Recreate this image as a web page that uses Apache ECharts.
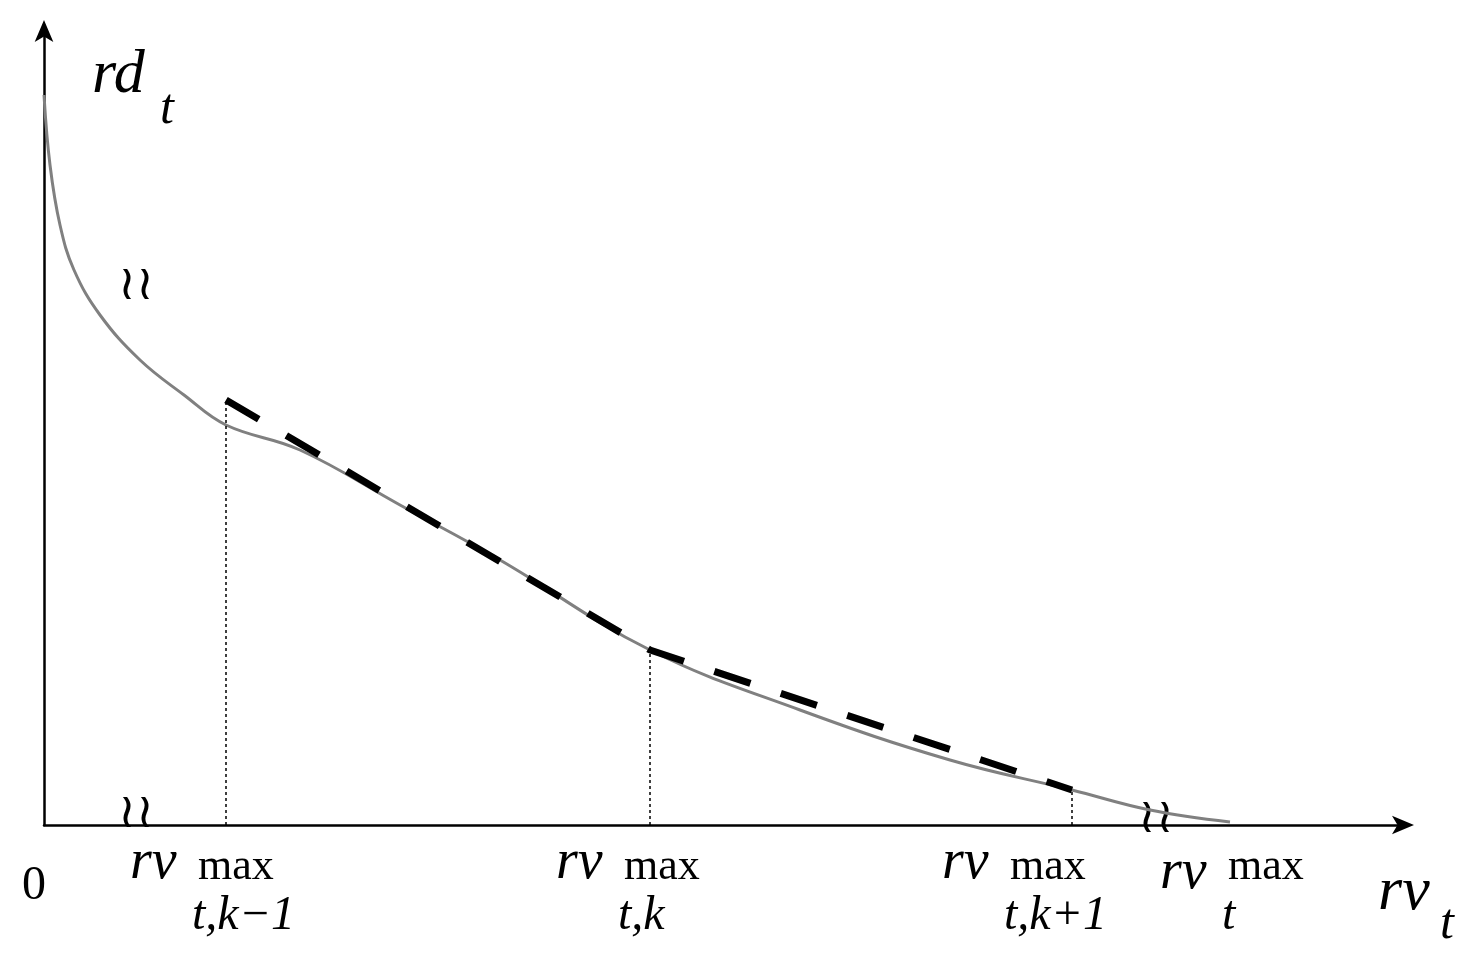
<!DOCTYPE html>
<html><head><meta charset="utf-8">
<script src="https://cdn.jsdelivr.net/npm/echarts@6/dist/echarts.min.js"></script>
<style>html,body{margin:0;background:#fff}#c{width:1477px;height:976px}</style></head>
<body><div id="c"></div>
<script>
// data in plot units (x: 0..1360, y: 0..795)
const curveX = [0, 6, 16, 30, 56, 96, 140, 182, 256, 356, 456, 606, 756, 906, 1028, 1106, 1186];
const curveY = [730, 660, 600, 555, 510, 465, 430, 400, 375, 320, 265, 175, 115, 65, 35, 15, 3];
const chordX = [182, 606, 1028];
const chordY = [425, 175, 35];
const dropX = [182, 606, 1028];
const dropY = [425, 175, 35];

const ch = echarts.init(document.getElementById('c'));
const serif = '"Liberation Serif", "DejaVu Serif", serif';
const T = (x, y, text, size, italic) => ({type:'text', left:x, top:y,
  style:{text, font:(italic?'italic ':'')+size+'px '+serif, fill:'#000'}});
const labels = [];
function rv(x, sub){
  labels.push(T(x, 835, 'rv', 56, true));
  labels.push(T(x+68, 845, 'max', 44, false));
  labels.push(T(x+62, 892, sub, 48, true));
}
rv(130, 't,k−1'); rv(556, 't,k'); rv(942, 't,k+1');
labels.push(T(1160, 845, 'rv', 56, true));
labels.push(T(1228, 845, 'max', 44, false));
labels.push(T(1222, 892, 't', 48, true));
labels.push(T(22, 862, '0', 48, false));
labels.push(T(92, 45, 'rd', 62, true));
labels.push(T(160, 85, 't', 50, true));
labels.push(T(1378, 862, 'rv', 62, true));
labels.push(T(1440, 900, 't', 50, true));
// break marks
[[118,262],[118,790],[1138,795]].forEach(([x,y])=>{
  labels.push({type:'text', left:x, top:y, style:{text:'≀≀', font:'48px '+serif, fill:'#000'}});
});

ch.setOption({
  animation:false,
  grid:{left:44, right:73, top:30, bottom:151, containLabel:false},
  xAxis:{type:'value', min:0, max:1360, axisLine:{onZero:false, symbol:['none','arrow'], symbolSize:[14,22], symbolOffset:[0,10], lineStyle:{color:'#000',width:2.5}},
    axisTick:{show:false}, axisLabel:{show:false}, splitLine:{show:false}},
  yAxis:{type:'value', min:0, max:795, axisLine:{onZero:false, symbol:['none','arrow'], symbolSize:[14,22], symbolOffset:[0,10], lineStyle:{color:'#000',width:2.5}},
    axisTick:{show:false}, axisLabel:{show:false}, splitLine:{show:false}},
  series:[
    {type:'line', smooth:0.4, symbol:'none', data:curveX.map((x,i)=>[x,curveY[i]]), lineStyle:{color:'#808080', width:3}},
    {type:'line', symbol:'none', data:chordX.map((x,i)=>[x,chordY[i]]), lineStyle:{color:'#000', width:7, type:[38,32]}},
    ...dropX.map((x,i)=>({type:'line', symbol:'none', data:[[x,0],[x,dropY[i]]], lineStyle:{color:'#000', width:1.5, type:[3,3]}}))
  ],
  graphic: labels
});
</script></body></html>
